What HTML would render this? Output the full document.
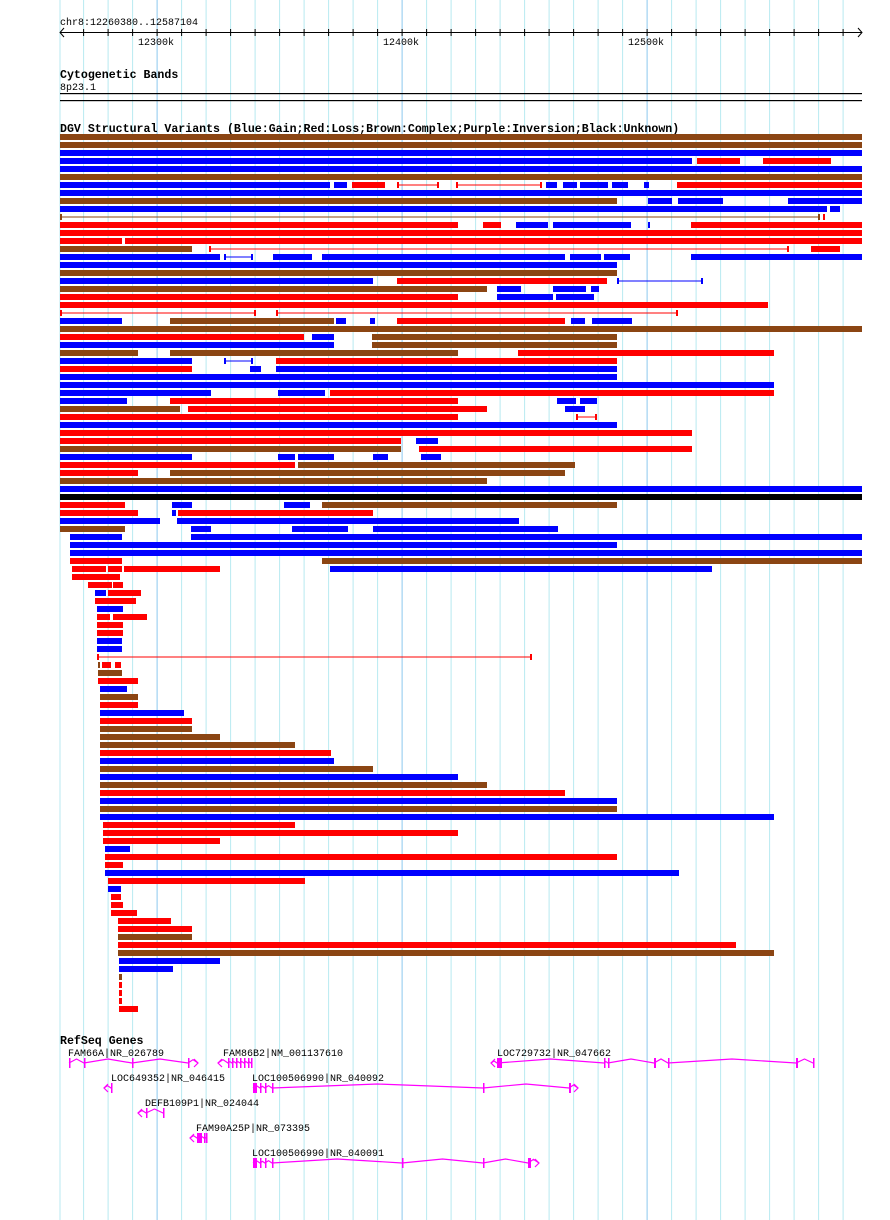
<!DOCTYPE html>
<html><head><meta charset="utf-8"><style>
html,body{margin:0;padding:0;background:#fff;}
svg{display:block;}
text{font-family:"Liberation Mono",monospace;font-size:10px;fill:#000;}
.b{font-weight:bold;font-size:11.6px;}
</style></head><body>
<svg id="s" width="890" height="1220" xmlns="http://www.w3.org/2000/svg"></svg>
<script>
var s=document.getElementById('s'),h='';
for(var i=0;i<33;i++){var x=83.6+i*24.5;if(x>862)break;var dark=Math.abs(x-157)<2||Math.abs(x-402)<2||Math.abs(x-647)<2;
h+='<line x1="'+x+'" y1="0" x2="'+x+'" y2="1220" stroke="'+(dark?'#8cc8ee':'#b8eaf0')+'" stroke-width="1"/>';}
h+='<line x1="60" y1="0" x2="60" y2="1220" stroke="#b8eaf0"/>';
h+='<text x="60" y="25">chr8:12260380..12587104</text>';
h+='<line x1="60" y1="32.5" x2="862" y2="32.5" stroke="#000"/>';
h+='<path d="M64 28 L60 32.5 L64 37 M858 28 L862 32.5 L858 37" fill="none" stroke="#000"/>';
for(var i=0;i<33;i++){var x=83.6+i*24.5;if(x>860)break;h+='<line x1="'+x+'" y1="29" x2="'+x+'" y2="36" stroke="#000"/>';}
h+='<text x="138" y="45">12300k</text><text x="383" y="45">12400k</text><text x="628" y="45">12500k</text>';
h+='<text class="b" x="60" y="78">Cytogenetic Bands</text><text x="60" y="90">8p23.1</text>';
h+='<rect x="60" y="93" width="802" height="1.2" fill="#000"/><rect x="60" y="100" width="802" height="1.2" fill="#000"/>';
h+='<text class="b" x="60" y="132">DGV Structural Variants (Blue:Gain;Red:Loss;Brown:Complex;Purple:Inversion;Black:Unknown)</text>';
var C={b:'#0000ff',r:'#ff0000',n:'#8b4513',k:'#000'};
var R=[
'n60-862','n60-862','b60-862','b60-692 r697-740 r763-831','b60-862','n60-862',
'b60-330 b334-347 r352-385 Lr397-439 Lr456-542 b546-557 b563-577 b580-608 b612-628 b644-649 r677-862',
'b60-862','n60-617 b648-672 b678-723 b788-862','b60-827 b830-840','Ln60-820 r823-825',
'r60-458 r483-501 b516-548 b553-631 b648-650 r691-862','r60-862','r60-122 r125-862',
'n60-192 Lr209-789 r811-840','b60-220 Lb224-253 b273-312 b322-565 b570-601 b604-630 b691-862',
'b60-617','n60-617','b60-373 r397-607 Lb617-703','n60-487 b497-521 b553-586 b591-599',
'r60-458 b497-553 b556-594','r60-768','Lr60-256 Lr276-678',
'b60-122 n170-334 b336-346 b370-375 r397-565 b571-585 b592-632','n60-862',
'r60-304 b312-334 n372-617','b60-334 n372-617','n60-138 n170-458 r518-774',
'b60-192 Lb224-253 r276-617','r60-192 b250-261 b276-617','b60-617','b60-774',
'b60-211 b278-325 r330-774','b60-127 r170-458 b557-576 b580-597','n60-180 r188-487 b565-585',
'r60-458 Lr576-597','b60-617','r60-692','r60-401 b416-438','n60-401 r419-692',
'b60-192 b278-295 b298-334 b373-388 b421-441','r60-295 n298-575','r60-138 n170-565','n60-487',
'b60-862','k60-862','r60-125 b172-192 b284-310 n322-617','r60-138 b172-176 r178-373',
'b60-160 b177-519','n60-125 b191-211 b292-348 b373-558','b70-122 b191-862','b70-617','b70-862',
'r70-122 n322-862','r72-106 r108-122 r124-220 b330-712','r72-120','r88-112 r113-123',
'b95-106 r108-141','r95-136','b97-123','r97-110 r113-147','r97-123','r97-123','b97-122','b97-122',
'Lr97-532','n98-100 r102-111 r115-121','n98-122','r98-138','b100-127','n100-138','r100-138',
'b100-184','r100-192','n100-192','n100-220','n100-295','r100-331','b100-334','n100-373','b100-458',
'n100-487','r100-565','b100-617','n100-617','b100-774','r103-295','r103-458','r103-220','b105-130',
'r105-617','r105-123','b105-679','r108-305','b108-121','r111-121','r111-123','r111-137','r118-171',
'r118-192','n118-192','r118-736','n118-774','b119-220','b119-173','n119-122','r119-122','r119-122',
'r119-122','r119-138'];
R.forEach(function(row,i){var y=134+8*i;row.split(' ').forEach(function(sg){
 var L=sg[0]=='L';if(L)sg=sg.slice(1);var c=C[sg[0]];var p=sg.slice(1).split('-');var a=+p[0],b=+p[1];
 if(L){h+='<rect x="'+a+'" y="'+(y+2.5)+'" width="'+(b-a)+'" height="1" fill="'+c+'"/><rect x="'+a+'" y="'+y+'" width="2" height="6" fill="'+c+'"/><rect x="'+(b-2)+'" y="'+y+'" width="2" height="6" fill="'+c+'"/>';}
 else h+='<rect x="'+a+'" y="'+y+'" width="'+(b-a)+'" height="6" fill="'+c+'"/>';});});
h+='<text class="b" x="60" y="1044">RefSeq Genes</text>';
var M='#ff00ff';
function gene(lbl,lx,ly,a,b,y,ex,dir){
 h+='<text x="'+lx+'" y="'+ly+'">'+lbl+'</text>';
 var pts=[];
 // intron hats between exons
 var xs=[a].concat(ex.map(function(e){return e[0];})).concat([b]);
 xs.sort(function(p,q){return p-q;});
 var d='M'+xs[0]+' '+y;
 for(var k=1;k<xs.length;k++){var p=xs[k-1],q=xs[k];var hgt=Math.min(4,(q-p)/3);
  d+=' L'+((p+q)/2)+' '+(y-hgt)+' L'+q+' '+y;}
 h+='<path d="'+d+'" fill="none" stroke="'+M+'" stroke-width="1.2"/>';
 ex.forEach(function(e){h+='<rect x="'+e[0]+'" y="'+(y-5)+'" width="'+e[1]+'" height="10" fill="'+M+'"/>';});
 if(dir<0)h+='<path d="M'+(a+4)+' '+(y-4)+' L'+a+' '+y+' L'+(a+4)+' '+(y+4)+'" fill="none" stroke="'+M+'" stroke-width="1.2"/>';
 else h+='<path d="M'+(b-4)+' '+(y-4)+' L'+b+' '+y+' L'+(b-4)+' '+(y+4)+'" fill="none" stroke="'+M+'" stroke-width="1.2"/>';
}
gene('FAM66A|NR_026789',68,1056,69,198,1063,[[69,1.5],[84,1.5],[132,1.5],[188,1.5]],1);
gene('FAM86B2|NM_001137610',223,1056,218,252,1063,[[228,1.5],[232,1.5],[236,1.5],[240,1.5],[244,1.5],[248,1.5],[251,1.5]],-1);
gene('LOC729732|NR_047662',497,1056,491,814,1063,[[497,5],[604,1.5],[608,1.5],[654,2],[668,1.5],[796,2],[813,1.5]],-1);
gene('LOC649352|NR_046415',111,1081,104,112,1088,[[111,1.5]],-1);
gene('LOC100506990|NR_040092',252,1081,253,578,1088,[[253,4],[260,1.5],[265,1.5],[272,1.5],[483,1.5],[569,2]],1);
gene('DEFB109P1|NR_024044',145,1106,138,164,1113,[[146,1.5],[163,1.5]],-1);
gene('FAM90A25P|NR_073395',196,1131,190,207,1138,[[197,5],[204,1.5],[206,1.5]],-1);
gene('LOC100506990|NR_040091',252,1156,253,539,1163,[[253,4],[260,1.5],[265,1.5],[272,1.5],[402,1.5],[483,1.5],[528,3]],1);
s.innerHTML=h;
</script>
</body></html>
